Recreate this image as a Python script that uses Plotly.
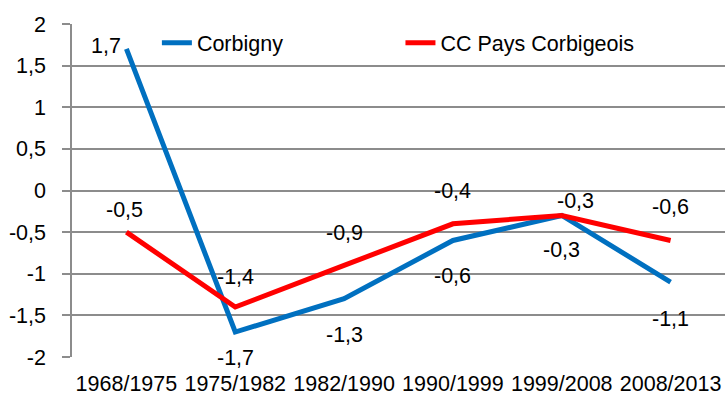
import plotly.graph_objects as go

# Taux de variation annuel de la population (%)
periods = ["1968/1975", "1975/1982", "1982/1990", "1990/1999", "1999/2008", "2008/2013"]
corbigny = [1.7, -1.7, -1.3, -0.6, -0.3, -1.1]
cc_pays = [-0.5, -1.4, -0.9, -0.4, -0.3, -0.6]

# Label offsets (pixels) for each value label
corbigny_label_shift = [(-20, 3), (0, -26), (0, -36), (0, -36), (0, -35), (0, -37)]
cc_label_shift = [(-2, 22), (0, 30), (0, 32), (0, 33), (14, 14), (0, 33)]

FONT = "Liberation Sans, Arial, sans-serif"
FS = 21.5
BLUE = "#0070C0"
RED = "#FF0000"
GRID = "#8C8C8C"


def fmt(v):
    return f"{v:.1f}".replace(".", ",")


fig = go.Figure()
fig.add_trace(go.Scatter(x=periods, y=corbigny, mode="lines", name="Corbigny",
                         line=dict(color=BLUE, width=5), legend="legend"))
fig.add_trace(go.Scatter(x=periods, y=cc_pays, mode="lines", name="CC Pays Corbigeois",
                         line=dict(color=RED, width=5), legend="legend2"))

annotations = []
for vals, shifts in ((corbigny, corbigny_label_shift), (cc_pays, cc_label_shift)):
    for p, v, (dx, dy) in zip(periods, vals, shifts):
        annotations.append(dict(x=p, y=v, text=fmt(v), showarrow=False,
                                xshift=dx, yshift=dy,
                                font=dict(family=FONT, size=FS, color="#000000")))

yticks = [-2, -1.5, -1, -0.5, 0, 0.5, 1, 1.5, 2]

fig.update_layout(
    width=725, height=401,
    margin=dict(l=72, r=0, t=24, b=44),
    paper_bgcolor="white", plot_bgcolor="white",
    font=dict(family=FONT, size=FS, color="#000000"),
    showlegend=True,
    legend=dict(x=0.13, y=1.005, xanchor="left", yanchor="top", orientation="h",
                bgcolor="rgba(0,0,0,0)", font=dict(family=FONT, size=FS)),
    legend2=dict(x=0.503, y=1.005, xanchor="left", yanchor="top", orientation="h",
                 bgcolor="rgba(0,0,0,0)", font=dict(family=FONT, size=FS)),
    xaxis=dict(type="category", range=[-0.5, 5.5], showgrid=False, showline=False,
               zeroline=False, ticks="", tickangle=0, automargin=False,
               ticklabelstandoff=11, tickfont=dict(family=FONT, size=FS)),
    # category axis crossing at y = 0, with tick marks between categories
    xaxis2=dict(overlaying="x", anchor="free", position=0.5, range=[-0.5, 5.5],
                showgrid=False, showline=True, linecolor=GRID, linewidth=1.5,
                zeroline=False, ticks="outside", ticklen=6, tickcolor=GRID, tickwidth=1.5,
                tickvals=[0.5, 1.5, 2.5, 3.5, 4.5, 5.5], showticklabels=False),
    yaxis=dict(range=[-2, 2], tickvals=yticks,
               ticktext=[fmt(v) if v != int(v) else str(int(v)) for v in yticks],
               showgrid=True, gridcolor=GRID, gridwidth=1.5, zeroline=False,
               showline=True, linecolor=GRID, linewidth=1.5, automargin=False,
               ticks="outside", ticklen=8, tickcolor=GRID, tickwidth=1.5,
               ticklabelstandoff=12, tickfont=dict(family=FONT, size=FS)),
    annotations=annotations,
)

fig.write_html("out.html")
